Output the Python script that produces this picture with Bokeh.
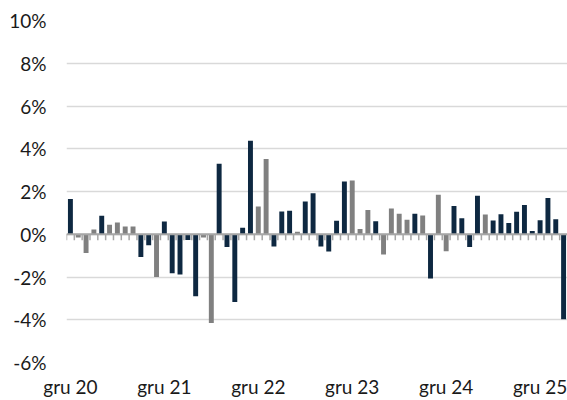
from bokeh.plotting import figure
from bokeh.models import Range1d, FixedTicker, Span, ColumnDataSource
from bokeh.transform import factor_cmap
from bokeh.embed import file_html
from bokeh.resources import INLINE

# ---- data -------------------------------------------------------------
PL_MONTHS = ["sty", "lut", "mar", "kwi", "maj", "cze",
             "lip", "sie", "wrz", "paź", "lis", "gru"]
N_MONTHS = 64  # gru 20 ... mar 26
months = [f"{PL_MONTHS[(11 + i) % 12]} {20 + (11 + i) // 12}" for i in range(N_MONTHS)]

values = [
    1.65, -0.15, -0.88, 0.22, 0.87, 0.45, 0.55, 0.36, 0.36, -1.07, -0.52, -2.00,
    0.60, -1.83, -1.88, -0.27, -2.90, -0.15, -4.15, 3.30, -0.60, -3.17, 0.30, 4.38,
    1.30, 3.52, -0.57, 1.06, 1.10, 0.12, 1.53, 1.92, -0.57, -0.81, 0.63, 2.47,
    2.52, 0.25, 1.14, 0.61, -0.95, 1.20, 0.96, 0.68, 0.96, 0.88, -2.07, 1.85,
    -0.80, 1.32, 0.75, -0.60, 1.80, 0.92, 0.64, 0.94, 0.53, 1.05, 1.37, 0.15,
    0.66, 1.70, 0.70, -3.98,
]
# "A" = dark navy bars, "B" = grey bars
series = [
    "A", "B", "B", "B", "A", "B", "B", "B", "B", "A", "A", "B",
    "A", "A", "A", "A", "A", "B", "B", "A", "A", "A", "A", "A",
    "B", "B", "A", "A", "A", "B", "A", "A", "A", "A", "A", "A",
    "B", "B", "B", "A", "B", "B", "B", "B", "A", "B", "A", "B",
    "B", "A", "A", "A", "A", "B", "A", "A", "A", "A", "A", "A",
    "A", "A", "A", "A",
]
y_ticks = [-6, -4, -2, 0, 2, 4, 6, 8, 10]
y_tick_labels = [f"{v}%" for v in y_ticks]
x_tick_idx = [i for i, m in enumerate(months) if m.startswith("gru")]
x_tick_labels = [months[i] for i in x_tick_idx]

NAVY = "#0e2841"
GREY = "#808080"
AXIS_GREY = "#a6a6a6"
FONT = "Lato"
TEXT = "#1a1a1a"

# ---- figure ---------------------------------------------------------------
p = figure(width=567, height=400,
           x_range=Range1d(-0.5, N_MONTHS - 0.5), y_range=Range1d(-6, 10),
           output_backend="svg", toolbar_location=None,
           min_border_left=66, min_border_right=0,
           min_border_top=20, min_border_bottom=37)
p.outline_line_color = None
p.background_fill_color = "white"

p.xgrid.grid_line_color = None
p.ygrid.ticker = FixedTicker(ticks=y_ticks)
p.ygrid.grid_line_color = "#d9d9d9"
p.ygrid.grid_line_width = 1.3

src = ColumnDataSource(dict(x=list(range(N_MONTHS)), top=values, s=series, m=months))
p.vbar(x="x", top="top", bottom=0, width=0.63, source=src,
       fill_color=factor_cmap("s", [NAVY, GREY], ["A", "B"]),
       line_color=None)

# category axis at zero: line and tick marks between categories
edges = [i - 0.5 for i in range(N_MONTHS + 1)]
p.segment(x0=edges, y0=[0] * len(edges), x1=edges, y1=[-0.28] * len(edges),
          line_color=AXIS_GREY, line_width=1.5)
p.add_layout(Span(location=0, dimension="width", line_color=AXIS_GREY, line_width=2))

# y axis
ya = p.yaxis[0]
ya.ticker = FixedTicker(ticks=y_ticks)
ya.major_label_overrides = dict(zip(y_ticks, y_tick_labels))
ya.axis_line_color = None
ya.major_tick_line_color = None
ya.minor_tick_line_color = None
ya.major_tick_out = 0
ya.minor_tick_out = 0
ya.major_tick_in = 0
ya.minor_tick_in = 0
ya.major_label_standoff = 20
ya.major_label_text_font = FONT
ya.major_label_text_font_size = "19px"
ya.major_label_text_color = TEXT

# x axis (labels only)
xa = p.xaxis[0]
xa.ticker = FixedTicker(ticks=x_tick_idx)
xa.major_label_overrides = dict(zip(x_tick_idx, x_tick_labels))
xa.axis_line_color = None
xa.major_tick_line_color = None
xa.minor_tick_line_color = None
xa.major_tick_out = 0
xa.minor_tick_out = 0
xa.major_tick_in = 0
xa.minor_tick_in = 0
xa.major_label_standoff = 12
xa.major_label_text_font = FONT
xa.major_label_text_font_size = "19px"
xa.major_label_text_color = TEXT

open("out.html", "w").write(file_html(p, INLINE))
